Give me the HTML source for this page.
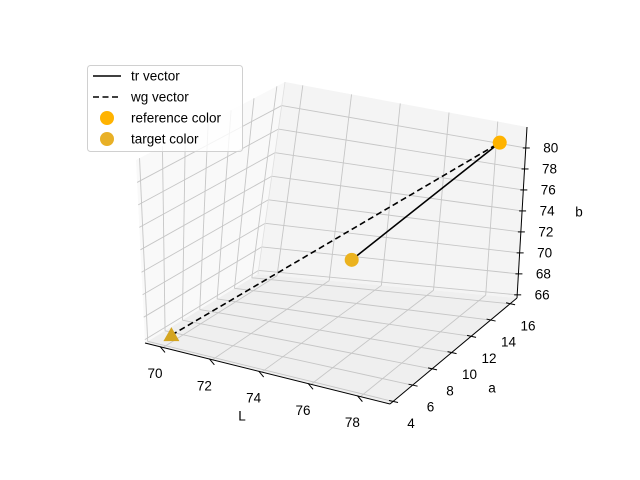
<!DOCTYPE html>
<html><head><meta charset="utf-8"><style>
html,body{margin:0;padding:0;background:#fff}
svg{display:block;font-family:"Liberation Sans","DejaVu Sans",sans-serif}
</style></head><body>
<svg id="chart" width="640" height="480" viewBox="0 0 640 480"></svg>
<script>
const lTicks=[70,72,74,76,78];
const aTicks=[4,6,8,10,12,14,16];
const bTicks=[66,68,70,72,74,76,78,80];
const refPoint=[78.5,15.8,80.8];
const midPoint=[74.4,12.0,70.9];
const targetPoint=[70.1,4.4,66.5];
const lLim=[69.27,79.2], aLim=[3.69,16.71], bLim=[65.7,82.0];
// corner pixels: key = uvw (L,a,b)
const C={'000':[145,343],'100':[390,404],'110':[517,298],'010':[258,274],
 '001':[136,160],'101':[393,214],'111':[527,127],'011':[285,82]};
function proj(L,a,b){
 const u=(L-lLim[0])/(lLim[1]-lLim[0]),v=(a-aLim[0])/(aLim[1]-aLim[0]),w=(b-bLim[0])/(bLim[1]-bLim[0]);
 let x=0,y=0;
 for(const k in C){const wt=(k[0]=='1'?u:1-u)*(k[1]=='1'?v:1-v)*(k[2]=='1'?w:1-w);x+=wt*C[k][0];y+=wt*C[k][1];}
 return [x,y];
}
const svg=document.getElementById('chart');const NS='http://www.w3.org/2000/svg';
function el(t,at,p){const e=document.createElementNS(NS,t);for(const k in at)e.setAttribute(k,at[k]);(p||svg).appendChild(e);return e;}
function poly(pts,fill,name){const e=el('polygon',{points:pts.map(p=>p.join(',')).join(' '),fill:fill,stroke:'none'});

}
const [L0,L1]=lLim,[A0,A1]=aLim,[B0,B1]=bLim;
poly([proj(L0,A0,B0),proj(L0,A1,B0),proj(L0,A1,B1),proj(L0,A0,B1)],'#f9f9f9','left-pane');
poly([proj(L0,A1,B0),proj(L1,A1,B0),proj(L1,A1,B1),proj(L0,A1,B1)],'#f4f4f4','back-pane');
poly([proj(L0,A0,B0),proj(L1,A0,B0),proj(L1,A1,B0),proj(L0,A1,B0)],'#efefef','floor-pane');
function line(p,q,st,w,name,dash){const e=el('line',{x1:p[0],y1:p[1],x2:q[0],y2:q[1],stroke:st,'stroke-width':w});if(dash)e.setAttribute('stroke-dasharray',dash);

return e;}
const gc='#c6c6c6';
lTicks.forEach(t=>{line(proj(t,A0,B0),proj(t,A1,B0),gc,0.9,'grid-l-floor');line(proj(t,A1,B0),proj(t,A1,B1),gc,0.9,'grid-l-back');});
aTicks.forEach(t=>{line(proj(L1,t,B0),proj(L0,t,B0),gc,0.9,'grid-a-floor');line(proj(L0,t,B0),proj(L0,t,B1),gc,0.9,'grid-a-left');});
bTicks.forEach(t=>{line(proj(L0,A0,t),proj(L0,A1,t),gc,0.9,'grid-b-left');line(proj(L0,A1,t),proj(L1,A1,t),gc,0.9,'grid-b-back');});
line(proj(L0,A1,B0),proj(L0,A1,B1),'#e0e0e0',0.8,'pane-edge');
line(proj(L0,A0,B0),proj(L1,A0,B0),'#000',1,'l-axis-line');
line(proj(L1,A0,B0),proj(L1,A1,B0),'#000',1,'a-axis-line');
line(proj(L1,A1,B0),proj(L1,A1,B1),'#000',1,'b-axis-line');
function txt(x,y,s,name,anchor){const e=el('text',{x:x,y:y,'font-size':13.5,'text-anchor':anchor||'middle','dominant-baseline':'central',fill:'#000'});e.textContent=s;

}
lTicks.forEach(t=>{const p=proj(t,A0,B0);line([p[0]-3,p[1]-1],[p[0]+2,p[1]+5],'#000',1,'l-tick');txt(p[0]-8,p[1]+26,t,'l-tick-label');});
aTicks.forEach(t=>{const p=proj(L1,t,B0);line([p[0]-4,p[1]-1],[p[0]+5,p[1]+1],'#000',1,'a-tick');txt(p[0]+18,p[1]+22,t,'a-tick-label');});
bTicks.forEach(t=>{const p=proj(L1,A1,t);line([p[0]-3,p[1]],[p[0]+4,p[1]],'#000',1,'b-tick');txt(p[0]+25,p[1],t,'b-tick-label');});
txt(242,416,'L','l-axis-title');txt(492,388,'a','a-axis-title');txt(579,212,'b','b-axis-title');
const pr=proj(...refPoint),pm=proj(...midPoint),pt=proj(...targetPoint);
line(pt,pr,'#000',1.6,'wg-vector','6,3.5');
line(pm,pr,'#000',1.6,'tr-vector');
function dot(p,fill,name){const e=el('circle',{cx:p[0],cy:p[1],r:7,fill:fill});

}
dot(pm,'#ebb21e','reference-point-start');
dot(pr,'#ffb300','reference-point-end');
const tri=el('polygon',{points:`${pt[0]},${pt[1]-8} ${pt[0]-8},${pt[1]+6} ${pt[0]+8},${pt[1]+6}`,fill:'#d4a520'});


const lg=el('g',{});


const box=el('rect',{x:87.5,y:65.5,width:155,height:86,rx:3,fill:'#fff','fill-opacity':0.8,stroke:'#d0d0d0'},lg);


const rows=[['tr vector','solid'],['wg vector','dash'],['reference color','#ffb300'],['target color','#e8b026']];
rows.forEach((r,i)=>{const y=76+i*21;
 if(r[1]=='solid')line([93,y],[121,y],'#000',1.6,'legend-swatch-tr');
 else if(r[1]=='dash')line([93,y],[121,y],'#000',1.6,'legend-swatch-wg','6,3.5');
 else dot([107,y],r[1],'legend-swatch-marker');
 txt(131,y,r[0],'legend-entry','start');});
</script>
</body></html>
